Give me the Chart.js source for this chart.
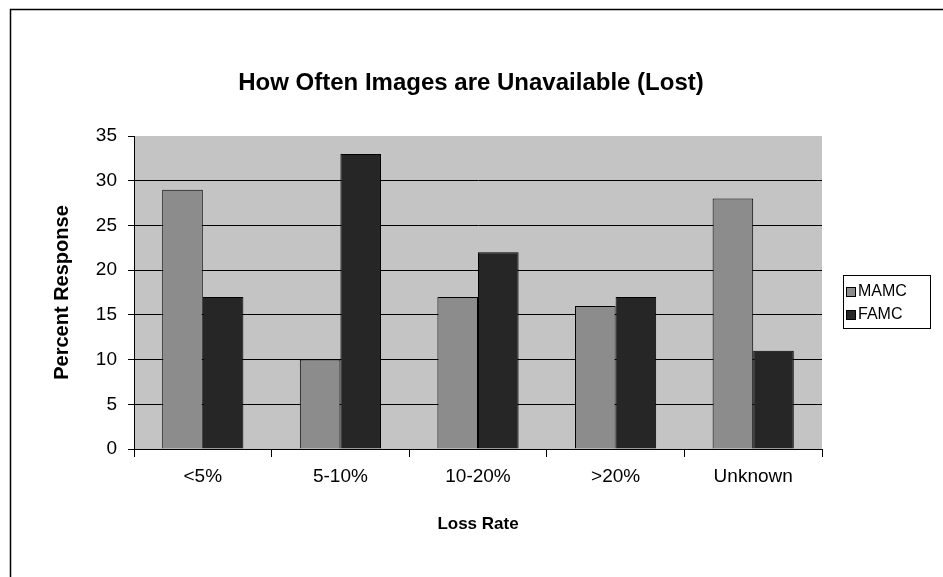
<!DOCTYPE html>
<html>
<head>
<meta charset="utf-8">
<script src="https://cdn.jsdelivr.net/npm/chart.js@4/dist/chart.umd.min.js"></script>
<style>
  html, body { margin: 0; padding: 0; background: #fff; }
  #wrap { width: 943px; height: 577px; }
</style>
</head>
<body>
<div id="wrap"><canvas id="lossChart" width="943" height="577"></canvas></div>
<script>
const chartTitle = "How Often Images are Unavailable (Lost)";
const lossRates = ["<5%", "5-10%", "10-20%", ">20%", "Unknown"];
const mamcValues = [29, 10, 17, 16, 28];
const famcValues = [17, 33, 22, 17, 11];
const yTicks = [0, 5, 10, 15, 20, 25, 30, 35];

const FONT = "'Liberation Sans', Arial, sans-serif";
const mamcColor = "#8c8c8c";
const famcColor = "#262626";

// frame, plot background, title and boxed legend like the old spreadsheet chart
const paperPlugin = {
    id: "paper",
    beforeDraw: function (chart) {
        let ctx = chart.ctx;
        let a = chart.chartArea;
        ctx.save();
        ctx.fillStyle = "#fff";
        ctx.fillRect(0, 0, chart.width, chart.height);
        ctx.fillStyle = "#c4c4c4";
        ctx.fillRect(a.left, a.top, a.right - a.left, a.bottom - a.top);
        ctx.strokeStyle = "#000";
        ctx.lineWidth = 1.5;
        ctx.beginPath();
        ctx.moveTo(10.5, 577);
        ctx.lineTo(10.5, 9.5);
        ctx.lineTo(943, 9.5);
        ctx.stroke();
        ctx.restore();
    },
    afterDraw: function (chart) {
        let ctx = chart.ctx;
        ctx.save();
        ctx.fillStyle = "#000";
        ctx.font = "bold 24px " + FONT;
        ctx.textAlign = "center";
        ctx.textBaseline = "middle";
        ctx.fillText(chartTitle, 471, 83);

        ctx.textAlign = "left";
        ctx.strokeStyle = "#000";
        ctx.lineWidth = 1;
        ctx.strokeRect(843.5, 275.5, 87, 53);
        ctx.font = "16px " + FONT;
        chart.data.datasets.forEach(function (ds, i) {
            let y = 292 + i * 23;
            ctx.fillStyle = ds.backgroundColor;
            ctx.fillRect(846, y - 5, 10, 10);
            ctx.strokeRect(846.5, y - 4.5, 9, 9);
            ctx.fillStyle = "#000";
            ctx.fillText(ds.label, 858, y);
        });
        ctx.restore();
    }
};

new Chart(document.getElementById("lossChart"), {
    type: "bar",
    data: {
        labels: lossRates,
        datasets: [
            {
                label: "MAMC",
                data: mamcValues,
                backgroundColor: mamcColor,
                borderColor: "#000",
                borderWidth: 1,
                categoryPercentage: 0.59,
                barPercentage: 1.0
            },
            {
                label: "FAMC",
                data: famcValues,
                backgroundColor: famcColor,
                borderColor: "#000",
                borderWidth: 1,
                categoryPercentage: 0.59,
                barPercentage: 1.0
            }
        ]
    },
    options: {
        responsive: false,
        animation: false,
        layout: { padding: { left: 0, right: 121, top: 136, bottom: 0 } },
        plugins: {
            legend: { display: false },
            tooltip: { enabled: false },
            title: { display: false }
        },
        scales: {
            x: {
                afterFit: function (s) { s.height = 128; },
                grid: {
                    offset: true,
                    drawOnChartArea: false,
                    drawTicks: true,
                    tickLength: 8,
                    tickColor: "#000"
                },
                border: { color: "#000", width: 1 },
                ticks: {
                    color: "#000",
                    font: { family: FONT, size: 19 },
                    padding: 8
                },
                title: {
                    display: true,
                    text: "Loss Rate",
                    color: "#000",
                    font: { family: FONT, size: 17, weight: "bold" },
                    padding: { top: 42, bottom: 42 }
                }
            },
            y: {
                min: 0,
                max: 35,
                afterFit: function (s) { s.width = 134; },
                afterBuildTicks: function (s) {
                    s.ticks = yTicks.map(function (v) { return { value: v }; });
                },
                grid: {
                    color: function (c) {
                        return c.tick && c.tick.value === 35 ? "rgba(0,0,0,0)" : "#000";
                    },
                    tickColor: "#000",
                    tickLength: 6,
                    lineWidth: 1
                },
                border: { color: "#000", width: 1 },
                ticks: {
                    color: "#000",
                    font: { family: FONT, size: 19 },
                    padding: 11
                },
                title: {
                    display: true,
                    text: "Percent Response",
                    color: "#000",
                    font: { family: FONT, size: 20, weight: "bold" },
                    padding: { top: 50, bottom: 50 }
                }
            }
        }
    },
    plugins: [paperPlugin]
});
</script>
</body>
</html>
